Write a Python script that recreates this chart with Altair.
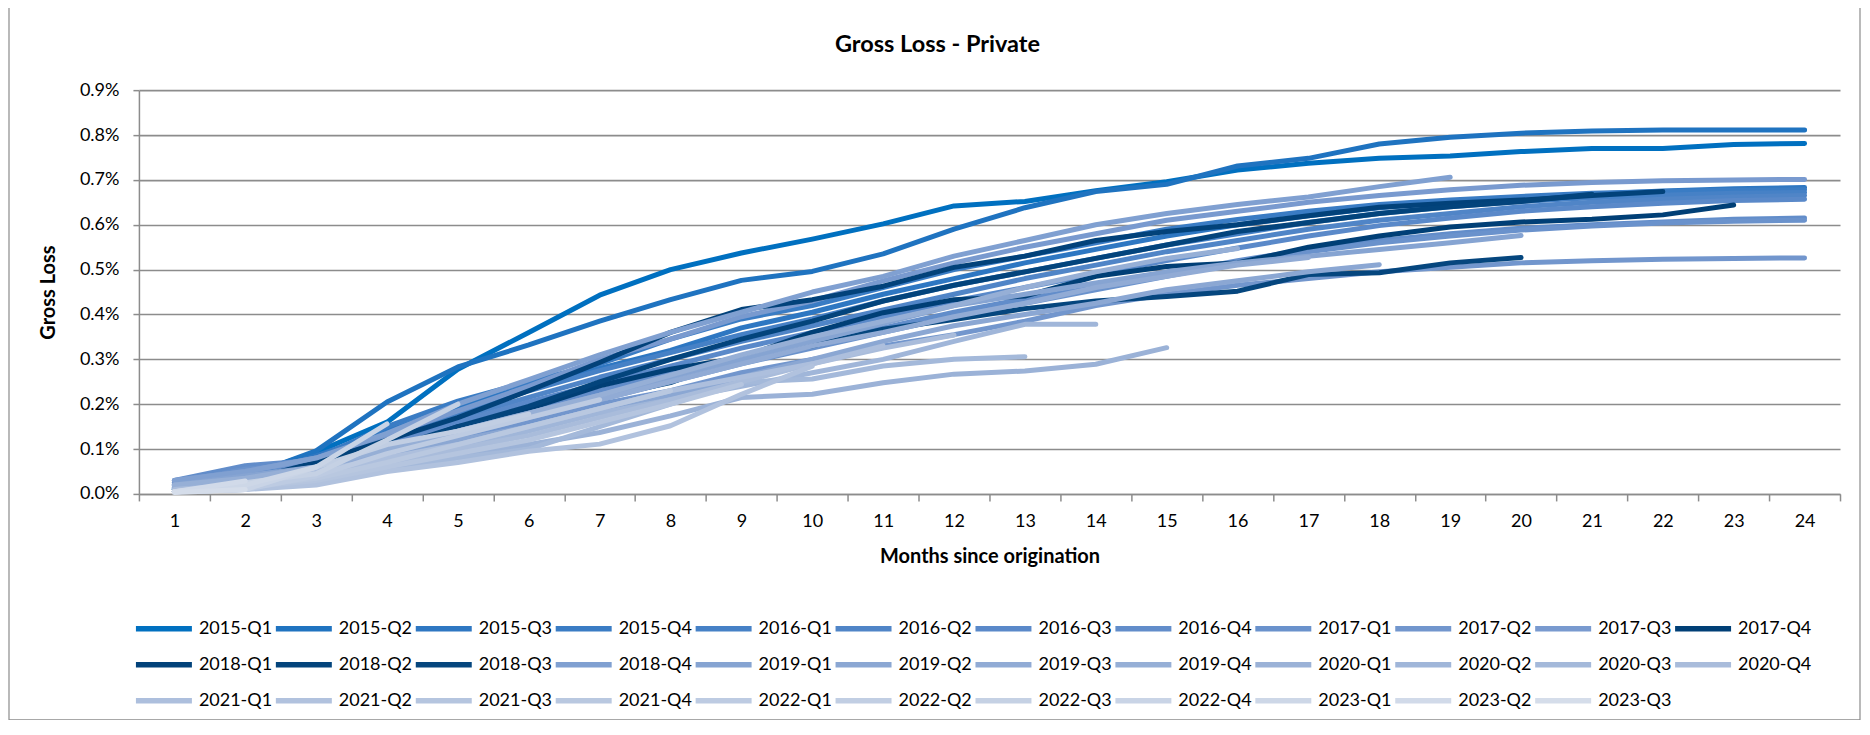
import altair as alt
import pandas as pd

# ---------------- data (cumulative gross loss, in %) ----------------
months = list(range(1, 25))

s2015_q1 = [0.010, 0.040, 0.093, 0.160, 0.278, 0.360, 0.443, 0.500, 0.537, 0.568, 0.602, 0.642, 0.652, 0.676, 0.696, 0.722, 0.737, 0.748, 0.753, 0.763, 0.770, 0.770, 0.779, 0.781]
s2015_q2 = [0.012, 0.038, 0.096, 0.205, 0.283, 0.332, 0.385, 0.433, 0.476, 0.496, 0.535, 0.590, 0.638, 0.674, 0.690, 0.731, 0.748, 0.780, 0.795, 0.804, 0.809, 0.811, 0.811, 0.811]
s2015_q3 = [0.012, 0.040, 0.085, 0.140, 0.195, 0.240, 0.280, 0.320, 0.370, 0.405, 0.445, 0.480, 0.515, 0.545, 0.575, 0.600, 0.620, 0.638, 0.650, 0.660, 0.668, 0.675, 0.680, 0.683]
s2015_q4 = [0.015, 0.045, 0.080, 0.150, 0.207, 0.250, 0.290, 0.345, 0.390, 0.420, 0.460, 0.500, 0.530, 0.560, 0.590, 0.612, 0.630, 0.645, 0.655, 0.663, 0.670, 0.674, 0.677, 0.678]
s2016_q1 = [0.020, 0.050, 0.075, 0.125, 0.180, 0.230, 0.275, 0.315, 0.355, 0.390, 0.430, 0.465, 0.495, 0.525, 0.555, 0.580, 0.605, 0.625, 0.640, 0.652, 0.660, 0.666, 0.670, 0.672]
s2016_q2 = [0.025, 0.045, 0.070, 0.120, 0.170, 0.215, 0.260, 0.300, 0.340, 0.375, 0.410, 0.445, 0.480, 0.510, 0.540, 0.565, 0.590, 0.610, 0.625, 0.640, 0.650, 0.657, 0.662, 0.665]
s2016_q3 = [0.020, 0.040, 0.065, 0.110, 0.160, 0.205, 0.245, 0.285, 0.325, 0.360, 0.395, 0.430, 0.460, 0.490, 0.520, 0.548, 0.575, 0.598, 0.615, 0.630, 0.640, 0.648, 0.654, 0.657]
s2016_q4 = [0.030, 0.063, 0.075, 0.115, 0.150, 0.190, 0.230, 0.270, 0.305, 0.340, 0.370, 0.405, 0.435, 0.460, 0.490, 0.520, 0.545, 0.565, 0.580, 0.592, 0.600, 0.606, 0.612, 0.615]
s2017_q1 = [0.025, 0.055, 0.070, 0.105, 0.140, 0.175, 0.210, 0.250, 0.290, 0.325, 0.360, 0.395, 0.425, 0.455, 0.485, 0.515, 0.540, 0.560, 0.575, 0.588, 0.597, 0.604, 0.608, 0.610]
s2017_q2 = [0.020, 0.040, 0.060, 0.090, 0.125, 0.160, 0.200, 0.230, 0.270, 0.300, 0.330, 0.355, 0.385, 0.420, 0.445, 0.465, 0.480, 0.495, 0.505, 0.515, 0.520, 0.523, 0.525, 0.526]
s2017_q3 = [0.030, 0.050, 0.080, 0.130, 0.185, 0.240, 0.300, 0.345, 0.395, 0.430, 0.475, 0.515, 0.550, 0.580, 0.610, 0.630, 0.650, 0.665, 0.678, 0.688, 0.694, 0.698, 0.700, 0.701]
s2017_q4 = [0.010, 0.030, 0.060, 0.100, 0.145, 0.190, 0.241, 0.278, 0.304, 0.360, 0.404, 0.433, 0.441, 0.485, 0.507, 0.515, 0.550, 0.575, 0.595, 0.606, 0.612, 0.622, 0.644]
s2018_q1 = [0.010, 0.030, 0.070, 0.120, 0.170, 0.230, 0.293, 0.360, 0.411, 0.433, 0.463, 0.505, 0.530, 0.565, 0.585, 0.600, 0.620, 0.639, 0.648, 0.655, 0.665, 0.674]
s2018_q2 = [0.005, 0.020, 0.060, 0.100, 0.150, 0.195, 0.250, 0.300, 0.345, 0.385, 0.430, 0.465, 0.495, 0.525, 0.555, 0.585, 0.605, 0.625, 0.640, 0.652, 0.668]
s2018_q3 = [0.005, 0.020, 0.055, 0.095, 0.150, 0.180, 0.215, 0.248, 0.307, 0.330, 0.367, 0.389, 0.413, 0.430, 0.440, 0.452, 0.489, 0.493, 0.515, 0.527]
s2018_q4 = [0.030, 0.050, 0.080, 0.135, 0.200, 0.255, 0.310, 0.360, 0.405, 0.450, 0.485, 0.530, 0.565, 0.600, 0.625, 0.645, 0.662, 0.685, 0.706]
s2019_q1 = [0.020, 0.040, 0.060, 0.100, 0.140, 0.180, 0.220, 0.260, 0.300, 0.340, 0.380, 0.420, 0.445, 0.470, 0.495, 0.515, 0.530, 0.545, 0.560, 0.576]
s2019_q2 = [0.015, 0.030, 0.050, 0.085, 0.120, 0.150, 0.190, 0.220, 0.260, 0.300, 0.340, 0.375, 0.400, 0.425, 0.455, 0.475, 0.495, 0.511]
s2019_q3 = [0.015, 0.030, 0.055, 0.090, 0.130, 0.170, 0.210, 0.250, 0.290, 0.330, 0.360, 0.395, 0.425, 0.460, 0.485, 0.510, 0.527]
s2019_q4 = [0.020, 0.035, 0.060, 0.100, 0.140, 0.180, 0.220, 0.265, 0.310, 0.350, 0.385, 0.420, 0.460, 0.495, 0.525, 0.547]
s2020_q1 = [0.005, 0.015, 0.030, 0.060, 0.085, 0.110, 0.137, 0.174, 0.215, 0.222, 0.248, 0.267, 0.274, 0.289, 0.326]
s2020_q2 = [0.010, 0.020, 0.040, 0.070, 0.100, 0.140, 0.180, 0.210, 0.240, 0.270, 0.300, 0.340, 0.378, 0.378]
s2020_q3 = [0.005, 0.015, 0.030, 0.055, 0.080, 0.100, 0.150, 0.200, 0.249, 0.256, 0.285, 0.300, 0.306]
s2020_q4 = [0.010, 0.020, 0.040, 0.070, 0.100, 0.130, 0.170, 0.210, 0.250, 0.290, 0.325, 0.354]
s2021_q1 = [0.005, 0.020, 0.050, 0.080, 0.110, 0.150, 0.190, 0.230, 0.260, 0.290, 0.330]
s2021_q2 = [0.005, 0.010, 0.020, 0.050, 0.070, 0.095, 0.111, 0.152, 0.222, 0.285]
s2021_q3 = [0.005, 0.015, 0.030, 0.060, 0.090, 0.120, 0.160, 0.200, 0.244]
s2021_q4 = [0.005, 0.015, 0.035, 0.070, 0.110, 0.150, 0.190, 0.230]
s2022_q1 = [0.005, 0.010, 0.040, 0.090, 0.130, 0.170, 0.210]
s2022_q2 = [0.005, 0.010, 0.060, 0.110, 0.140, 0.178]
s2022_q3 = [0.005, 0.025, 0.045, 0.120, 0.200]
s2022_q4 = [0.005, 0.010, 0.060, 0.156]
s2023_q1 = [0.005, 0.020, 0.060]
s2023_q2 = [0.005, 0.029]
s2023_q3 = [0.003, 0.010]

series_names = [
    "2015-Q1", "2015-Q2", "2015-Q3", "2015-Q4",
    "2016-Q1", "2016-Q2", "2016-Q3", "2016-Q4",
    "2017-Q1", "2017-Q2", "2017-Q3", "2017-Q4",
    "2018-Q1", "2018-Q2", "2018-Q3", "2018-Q4",
    "2019-Q1", "2019-Q2", "2019-Q3", "2019-Q4",
    "2020-Q1", "2020-Q2", "2020-Q3", "2020-Q4",
    "2021-Q1", "2021-Q2", "2021-Q3", "2021-Q4",
    "2022-Q1", "2022-Q2", "2022-Q3", "2022-Q4",
    "2023-Q1", "2023-Q2", "2023-Q3",
]
series_values = [
    s2015_q1, s2015_q2, s2015_q3, s2015_q4,
    s2016_q1, s2016_q2, s2016_q3, s2016_q4,
    s2017_q1, s2017_q2, s2017_q3, s2017_q4,
    s2018_q1, s2018_q2, s2018_q3, s2018_q4,
    s2019_q1, s2019_q2, s2019_q3, s2019_q4,
    s2020_q1, s2020_q2, s2020_q3, s2020_q4,
    s2021_q1, s2021_q2, s2021_q3, s2021_q4,
    s2022_q1, s2022_q2, s2022_q3, s2022_q4,
    s2023_q1, s2023_q2, s2023_q3,
]
series_colors = [
    "#0070C0", "#1F73C0", "#2E77C2", "#3A7CC4",
    "#4681C6", "#5085C7", "#5A89C9", "#628DCA",
    "#6A92CC", "#7296CD", "#799ACF", "#003F76",
    "#02427A", "#03447C", "#05467E", "#80A0D1",
    "#86A4D2", "#8BA7D3", "#91ABD5", "#96AFD6",
    "#9BB2D7", "#A0B6D9", "#A4B9DA", "#A9BCDB",
    "#ADBFDD", "#B1C2DE", "#B5C5DF", "#B9C8E0",
    "#BDCBE2", "#C1CEE3", "#C5D1E4", "#C9D4E6",
    "#CDD7E7", "#D1DAE9", "#D5DDEA",
]

rows = []
for name, vals in zip(series_names, series_values):
    for m, v in zip(months, vals):
        rows.append({"Series": name, "Month": m, "Loss": v / 100.0})
df = pd.DataFrame(rows)

# ---------------- layout ----------------
W, H = 1702, 404
band = W / 24.0
FONT = "Lato"
GRID = "#8C8C8C"

x_tick_values = [i + 0.5 for i in range(25)]
y_tick_values = [i / 1000 for i in range(10)]

frame = alt.Chart(pd.DataFrame({"k": [0]})).mark_rect(
    filled=False, stroke="#8C8C8C", strokeWidth=1.2
).encode(
    x=alt.value(-130), x2=alt.value(1722), y=alt.value(-84), y2=alt.value(630)
)

lines = alt.Chart(df).mark_line(
    strokeWidth=5, strokeCap="round", strokeJoin="round"
).encode(
    x=alt.X(
        "Month:Q",
        scale=alt.Scale(domain=[0.5, 24.5], nice=False, zero=False),
        axis=alt.Axis(
            values=x_tick_values,
            labelExpr="datum.value < 24 ? format(datum.value + 0.5, 'd') : ''",
            labelOffset=band / 2,
            labelFlush=False,
            labelOverlap=False,
            grid=False,
            tickSize=7,
            tickWidth=1.5,
            tickColor=GRID,
            domainColor=GRID,
            domainWidth=1.5,
            labelFontSize=18,
            labelPadding=12,
            title="Months since origination",
            titleFontSize=20,
            titleFontWeight="bold",
            titlePadding=16,
        ),
    ),
    y=alt.Y(
        "Loss:Q",
        scale=alt.Scale(domain=[0, 0.009], nice=False),
        axis=alt.Axis(
            values=y_tick_values,
            format=".1%",
            grid=True,
            gridColor=GRID,
            gridWidth=1.6,
            tickSize=6,
            tickWidth=1.5,
            tickColor=GRID,
            domainColor=GRID,
            domainWidth=1.5,
            labelFontSize=18,
            labelPadding=14,
            title="Gross Loss",
            titleFontSize=20,
            titleFontWeight="bold",
            titlePadding=21,
        ),
    ),
    color=alt.Color(
        "Series:N",
        scale=alt.Scale(domain=series_names, range=series_colors),
        legend=alt.Legend(
            orient="none",
            legendX=-6,
            legendY=528,
            direction="horizontal",
            columns=12,
            title=None,
            symbolType="stroke",
            symbolSize=3136,
            symbolStrokeWidth=5.5,
            symbolOffset=0,
            symbolLimit=0,
            labelFontSize=18,
            labelOffset=4,
            labelLimit=300,
            columnPadding=0,
            rowPadding=14,
            clipHeight=22,
            padding=0,
        ),
    ),
    detail="Series:N",
)

chart = alt.layer(frame, lines).properties(
    width=W,
    height=H,
    padding={"left": 131, "top": 82, "right": 22, "bottom": 226},
    autosize=alt.AutoSizeParams(type="none"),
    title=alt.TitleParams(
        "Gross Loss - Private",
        fontSize=23.5,
        fontWeight="bold",
        font=FONT,
        color="black",
        anchor="middle",
        dx=-52,
        offset=-51,
    ),
).configure(
    font=FONT,
).configure_view(
    stroke=None,
).configure_axis(
    labelColor="black",
    titleColor="black",
    labelFont=FONT,
    titleFont=FONT,
).configure_legend(
    labelColor="black",
    labelFont=FONT,
)

chart.save("out.html", embed_options={"renderer": "svg", "actions": False})
